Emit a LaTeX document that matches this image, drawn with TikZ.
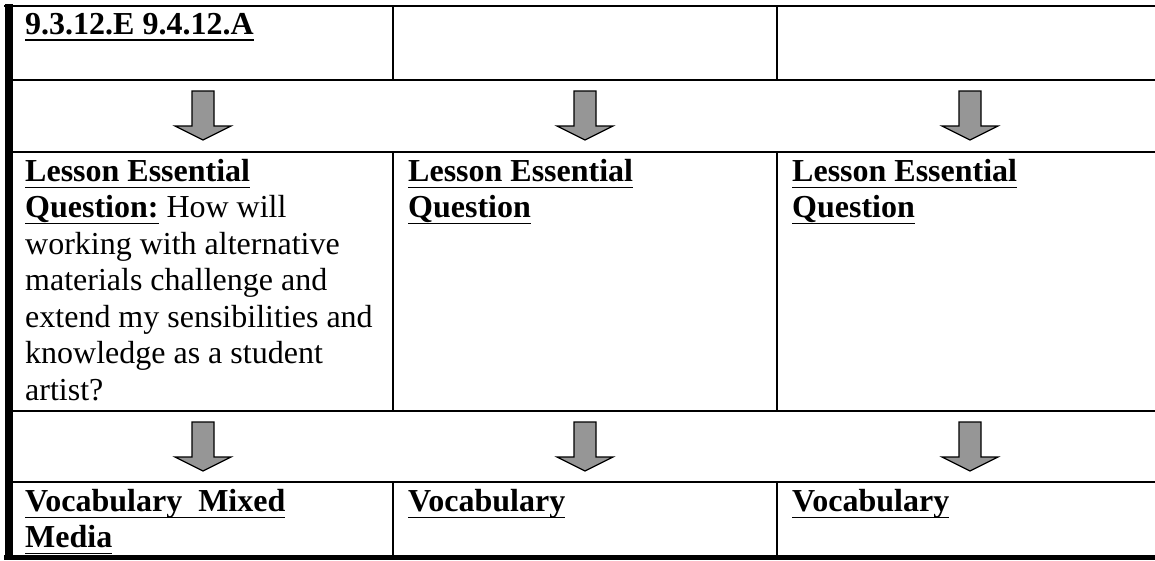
\documentclass[tikz,border=0pt]{standalone}
\usepackage{fontspec}
\setmainfont{Liberation Serif}
\definecolor{arrowgray}{HTML}{969696}
\tikzset{
  cell/.style={anchor=north west, inner sep=0pt, align=left,
    font=\fontsize{32}{36.5}\selectfont},
  rule/.style={line width=2.5pt},
  colrule/.style={line width=1.5pt},
  downarrow/.style={draw=black, fill=arrowgray, line width=1.2pt, line join=miter},
}
\newsavebox{\hdbox}
\newcommand{\hd}[1]{\sbox{\hdbox}{\textbf{#1}}%
  \rlap{\rule[-6.5pt]{\wd\hdbox}{1.4pt}}\usebox{\hdbox}}

\begin{document}
\begin{tikzpicture}[x=1pt,y=-1pt]
    \useasboundingbox (0,0) rectangle (1155,560);
    \coordinate (TL) at (4,6);
    \coordinate (TR) at (1155,6);
    \coordinate (BL) at (4,557.5);
    \coordinate (BR) at (1155,557.5);
    % frame
    \draw[line width=2pt] (TL) -- (TR);
    \draw[line width=5pt] (BL) -- (BR);
    \draw[line width=8pt] (8.5,4) -- (8.5,560);
    \foreach \y in {80,152,411,482}
        \draw[rule] (8,\y) -- (1155,\y);
    % column rules
    \foreach \x in {393,777}{
        \draw[colrule] (\x,6) -- (\x,80);
        \draw[colrule] (\x,152) -- (\x,411);
        \draw[colrule] (\x,482) -- (\x,555);
    }
    % block arrows
    \foreach \cx in {203,585,970}
        \foreach \y in {80,411}
            \draw[downarrow] (\cx-11,\y+11) -- (\cx+11,\y+11) -- (\cx+11,\y+46)
                -- (\cx+28,\y+46) -- (\cx,\y+60) -- (\cx-28,\y+46)
                -- (\cx-11,\y+46) -- cycle;
    % texts
    \node[cell] (std) at (25,13) {\hd{9.3.12.E 9.4.12.A}};
    \node[cell] (leqA) at (25,159) {\hd{Lesson Essential}\\
        \hd{Question:} How will\\
        working with alternative\\
        materials challenge and\\
        extend my sensibilities and\\
        knowledge as a student\\
        artist?};
    \node[cell] (leqB) at (408,159) {\hd{Lesson Essential}\\ \hd{Question}};
    \node[cell] (leqC) at (792,159) {\hd{Lesson Essential}\\ \hd{Question}};
    \node[cell] (vocA) at (25,489) {\hd{Vocabulary\ \ Mixed}\\ \hd{Media}};
    \node[cell] (vocB) at (408,489) {\hd{Vocabulary}};
    \node[cell] (vocC) at (792,489) {\hd{Vocabulary}};
\end{tikzpicture}
\end{document}
